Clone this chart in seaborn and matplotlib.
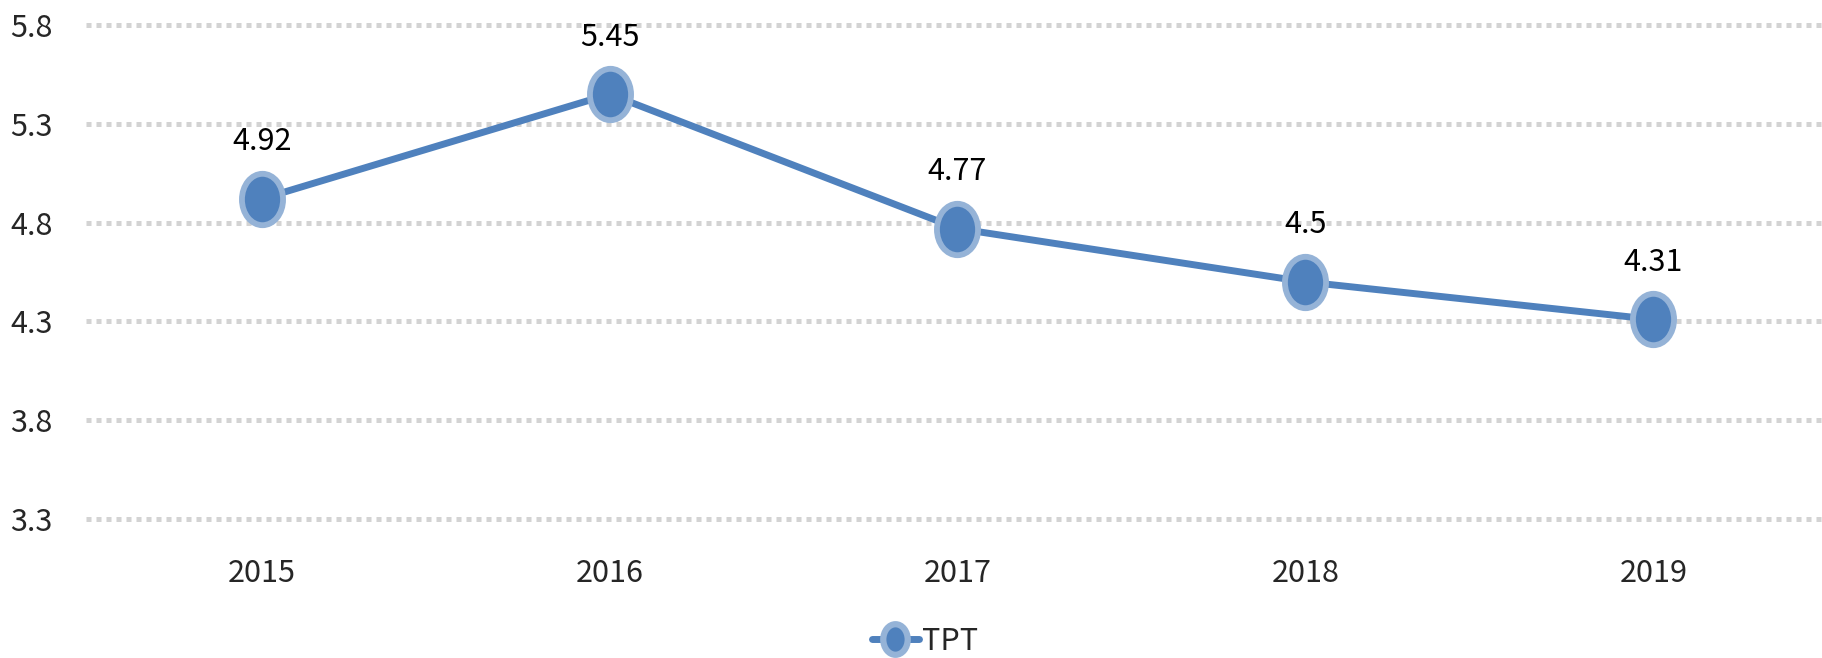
import matplotlib
matplotlib.use("Agg")
import matplotlib.pyplot as plt
import matplotlib.transforms as mtrans
from matplotlib.path import Path
from matplotlib.lines import Line2D
import seaborn as sns
import pandas as pd

years = ["2015", "2016", "2017", "2018", "2019"]
tpt = [4.92, 5.45, 4.77, 4.5, 4.31]
y_ticks = [3.3, 3.8, 4.3, 4.8, 5.3, 5.8]

df = pd.DataFrame({"year": years, "TPT": tpt})

sns.set_style("white")
plt.rcParams["font.family"] = ["Noto Sans CJK JP", "DejaVu Sans"]

line_color = "#4f81bd"
ring_color = "#95b3d7"
grid_color = "#d3d3d3"

# slightly tall ellipse marker, like the source picture
ellipse = Path.unit_circle().transformed(mtrans.Affine2D().scale(0.8, 1.0))

fig = plt.figure(figsize=(18.22, 6.58), dpi=100)
ax = fig.add_axes([86 / 1822, 139 / 658, 1 - 86 / 1822, (519 - 25) / 658])

sns.lineplot(data=df, x="year", y="TPT", ax=ax, color=line_color, linewidth=5,
             marker=ellipse, markersize=37, markerfacecolor=line_color,
             markeredgecolor=ring_color, markeredgewidth=4.2, zorder=3)

for i, v in enumerate(tpt):
    ax.annotate(f"{v:g}", (i, v), xytext=(0, 41), textcoords="offset points",
                ha="center", va="center", fontsize=22, color="black")

ax.set_xlim(-0.505, 4.485)
ax.set_ylim(3.3, 5.8)
ax.set_yticks(y_ticks)
ax.set_yticklabels([f"{t:.1f}" for t in y_ticks])
ax.yaxis.grid(True, color=grid_color, linewidth=3.6, linestyle=(0, (1, 1)))
ax.xaxis.grid(False)
for gl in ax.get_ygridlines():
    gl.set_clip_on(False)
ax.set_axisbelow(True)
for s in ax.spines.values():
    s.set_visible(False)
ax.tick_params(axis="y", length=0, pad=24, labelsize=22)
ax.tick_params(axis="x", length=0, pad=28, labelsize=22)
ax.set_xlabel("")
ax.set_ylabel("")

handle = Line2D([], [], color=line_color, linewidth=5, marker=ellipse,
                markersize=22, markerfacecolor=line_color,
                markeredgecolor=ring_color, markeredgewidth=4.5)
fig.legend([handle], ["TPT"], loc="center", bbox_to_anchor=(925 / 1822, 1 - 641 / 658),
           frameon=False, fontsize=22, handlelength=1.55, handletextpad=0.1,
           borderpad=0, borderaxespad=0)

fig.savefig("out.png", dpi=100)
